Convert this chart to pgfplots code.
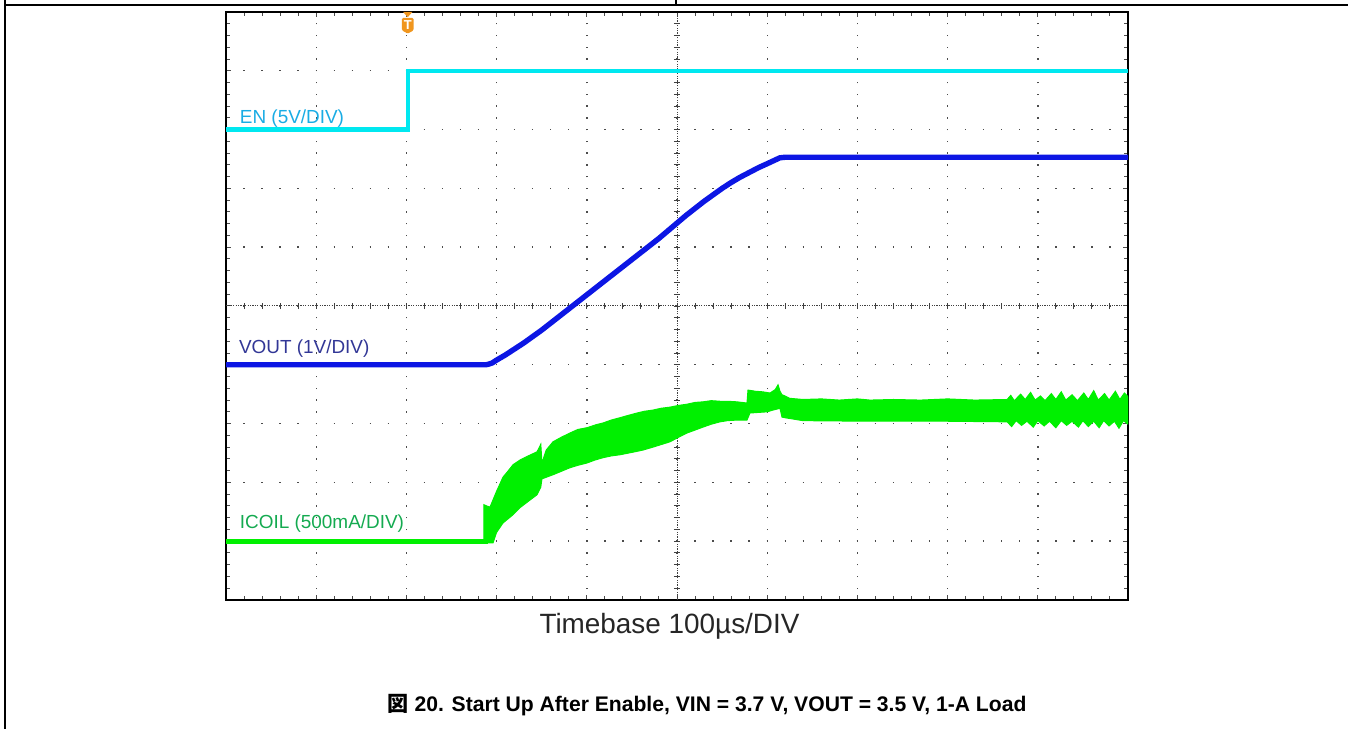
\documentclass[border=0pt]{standalone}
\usepackage{pgfplots}
\pgfplotsset{compat=1.18}
\usepackage{fontspec}
\setmainfont{Liberation Sans}
\newfontfamily\cjk{Noto Sans CJK JP}
\definecolor{encol}{RGB}{0,232,240}
\definecolor{vcol}{RGB}{12,22,228}
\definecolor{icol}{RGB}{0,240,0}
\definecolor{enlab}{RGB}{25,172,228}
\definecolor{vlab}{RGB}{50,55,150}
\definecolor{ilab}{RGB}{20,170,80}
\definecolor{trig}{RGB}{240,150,30}
\begin{document}
\begin{tikzpicture}
\useasboundingbox (-113bp,-64.5bp) rectangle (561bp,300bp);
\draw[line width=1bp] (-110.5bp,300bp) -- (-110.5bp,-64.5bp);
\draw[line width=1bp] (-110.5bp,297.5bp) -- (561bp,297.5bp);
\draw[line width=0.8bp] (225bp,297.5bp) -- (225bp,300bp);
\begin{axis}[
 at={(0,0)}, anchor=south west,
 scale only axis, width=451bp, height=294bp,
 xmin=0, xmax=1000, ymin=0, ymax=10,
 xtick={0,100,...,1000}, ytick={0,1,...,10},
 minor x tick num=4, minor y tick num=4,
 xticklabels={}, yticklabels={},
 tick align=inside, major tick length=2.5bp, minor tick length=2bp,
 tick style={black!70, line width=0.5bp},
 grid=major,
 major x grid style={black!70, line width=0.7bp, dash pattern=on 0.7bp off 5.18bp, dash phase=0.35bp},
 major y grid style={black!70, line width=0.7bp, dash pattern=on 0.7bp off 8.32bp, dash phase=0.35bp},
 axis line style={black, line width=0.8bp},
 no markers,
]
% centre cross
\draw[black!75, line width=0.5bp, dash pattern=on 0.6bp off 0.6bp] (axis cs:500,0) -- (axis cs:500,10);
\draw[black!75, line width=0.5bp, dash pattern=on 0.6bp off 0.6bp] (axis cs:0,5) -- (axis cs:1000,5);
\pgfplotsinvokeforeach{20,40,...,980}{\draw[black!75,line width=0.5bp] (axis cs:#1,5) ++(0,-1.6bp) -- ++(0,3.2bp);}
\pgfplotsinvokeforeach{0.2,0.4,...,9.8}{\draw[black!75,line width=0.5bp] (axis cs:500,#1) ++(-1.6bp,0) -- ++(3.2bp,0);}

% EN
\addplot[encol, line width=2.1bp] coordinates {(0,8.0) (201.5,8.0) (201.5,9.0) (1000,9.0)};
% VOUT
\addplot[vcol, line width=2.7bp, line join=round] coordinates {
(0,4.0) (288,4.0) (291,4.01) (295,4.03) (300,4.08) (310,4.17) (320,4.27) (330,4.37)
(340,4.48) (350,4.59) (360,4.71) (370,4.83) (380,4.95) (390,5.07) (400,5.19)
(410,5.31) (420,5.43) (430,5.55) (440,5.67) (450,5.79) (460,5.91) (470,6.03)
(480,6.15) (490,6.28) (500,6.41) (510,6.54) (520,6.66) (530,6.78) (540,6.89)
(550,7.00) (560,7.10) (570,7.19) (580,7.27) (590,7.35) (600,7.42) (607,7.47)
(614,7.52) (620,7.53) (1000,7.53)};
% ICOIL flat
\addplot[icol, line width=2.4bp] coordinates {(0,1.0) (291,1.0)};
% ICOIL band
\addplot[icol, fill=icol, line width=0.5bp] coordinates {
(286,1.03) (286,1.62) (289,1.60) (292.7,1.58) (300,1.85) (307.1,2.09) (312,2.18) (318.2,2.30)
(325.9,2.38) (335,2.45) (344.8,2.52) (348.1,2.62) (349,2.65) (350.3,2.33) (355,2.55) (362.5,2.69)
(372,2.77) (381.4,2.84) (390,2.90) (400.2,2.93) (410,2.98) (418,3.01) (427,3.06) (436.8,3.10)
(446,3.14) (455.7,3.18) (464,3.21) (473.4,3.23) (482,3.26) (492.2,3.28) (502,3.31)
(511.1,3.33) (520,3.36) (528.8,3.37) (538,3.39) (547.7,3.38) (556,3.38) (566.5,3.37) (577.6,3.35) (578.7,3.57) (587,3.55) (595.3,3.54)
(603.1,3.52) (609,3.58) (612,3.66) (614.2,3.55) (616.4,3.49) (619.7,3.47) (625,3.43)
(639.7,3.41) (660,3.42) (680,3.40) (700,3.42) (714,3.40) (740,3.41) (770,3.40) (800,3.42) (830,3.40) (866,3.41)
(870,3.48) (874,3.39) (881,3.50) (886,3.41) (892,3.53) (897,3.40) (903,3.47) (908,3.39)
(915,3.51) (920,3.41) (926,3.54) (931,3.40) (938,3.49) (944,3.39) (951,3.52) (956,3.41)
(962,3.56) (967,3.40) (974,3.51) (979,3.40) (986,3.55) (991,3.41) (996,3.52) (1000,3.46)
(1000,2.99) (995,3.05) (990,2.92) (985,3.04) (979,2.96) (973,3.05) (968,2.93) (962,3.04)
(956,2.95) (950,3.05) (945,2.94) (938,3.04) (932,2.97) (926,3.05) (920,2.93) (913,3.04)
(907,2.96) (900,3.05) (895,2.94) (888,3.04) (882,2.97) (876,3.05) (871,2.95) (866,3.03)
(800,3.04) (714,3.04) (639.7,3.05) (619.7,3.10) (616.4,3.11) (614.2,3.26) (606.4,3.23) (599.8,3.20)
(580.9,3.18) (577.6,3.06) (566.5,3.06) (556,3.05) (547.7,3.03) (538,2.99) (528.8,2.94) (520,2.89) (511.1,2.84) (502,2.77) (492.2,2.69)
(473.4,2.60) (462.3,2.55) (450,2.51) (436.8,2.47) (427,2.45) (418,2.42) (409,2.38) (400.2,2.33) (390,2.29) (381.4,2.25) (372,2.19) (362.5,2.13)
(350.3,2.06) (349,1.92) (344.8,1.79) (337,1.70) (325.9,1.57) (318.2,1.45) (307.1,1.31)
(300,1.15) (296,0.97) (290,0.97) (286,0.97)
} -- cycle;

% trigger marker
\fill[trig] (axis cs:201.5,10) ++(-2.3bp,0) -- ++(4.6bp,0) -- ++(-2.3bp,-2.6bp) -- cycle;
\fill[trig, rounded corners=0.6bp] (axis cs:201.5,10) ++(-2.9bp,-3bp) -- ++(5.8bp,0) -- ++(0,-6.2bp) -- ++(-2.9bp,-1.6bp) -- ++(-2.9bp,1.6bp) -- cycle;
\node[white, font=\bfseries\fontsize{6.5}{6.5}\selectfont, inner sep=0pt] at ([yshift=-6.7bp]axis cs:201.5,10) {T};

% labels
\node[anchor=base west, inner sep=0pt, text=enlab, font=\fontsize{9.5}{11}\selectfont] at (axis cs:15,8.10) {EN (5V/DIV)};
\node[anchor=base west, inner sep=0pt, text=vlab, font=\fontsize{9.5}{11}\selectfont] at (axis cs:14,4.20) {VOUT (1V/DIV)};
\node[anchor=base west, inner sep=0pt, text=ilab, font=\fontsize{9.5}{11}\selectfont] at (axis cs:15,1.21) {ICOIL (500mA/DIV)};
\end{axis}
\node[anchor=base, inner sep=0pt, text=black!85, font=\fontsize{14}{16}\selectfont] at (221.75bp,-16.5bp) {Timebase 100µs/DIV};
\node[anchor=base, inner sep=0pt, font=\bfseries\fontsize{10.6}{12}\selectfont] at (240.5bp,-55.5bp) {{\cjk 図} 20. Start Up After Enable, VIN = 3.7 V, VOUT = 3.5 V, 1-A Load};
\end{tikzpicture}
\end{document}
